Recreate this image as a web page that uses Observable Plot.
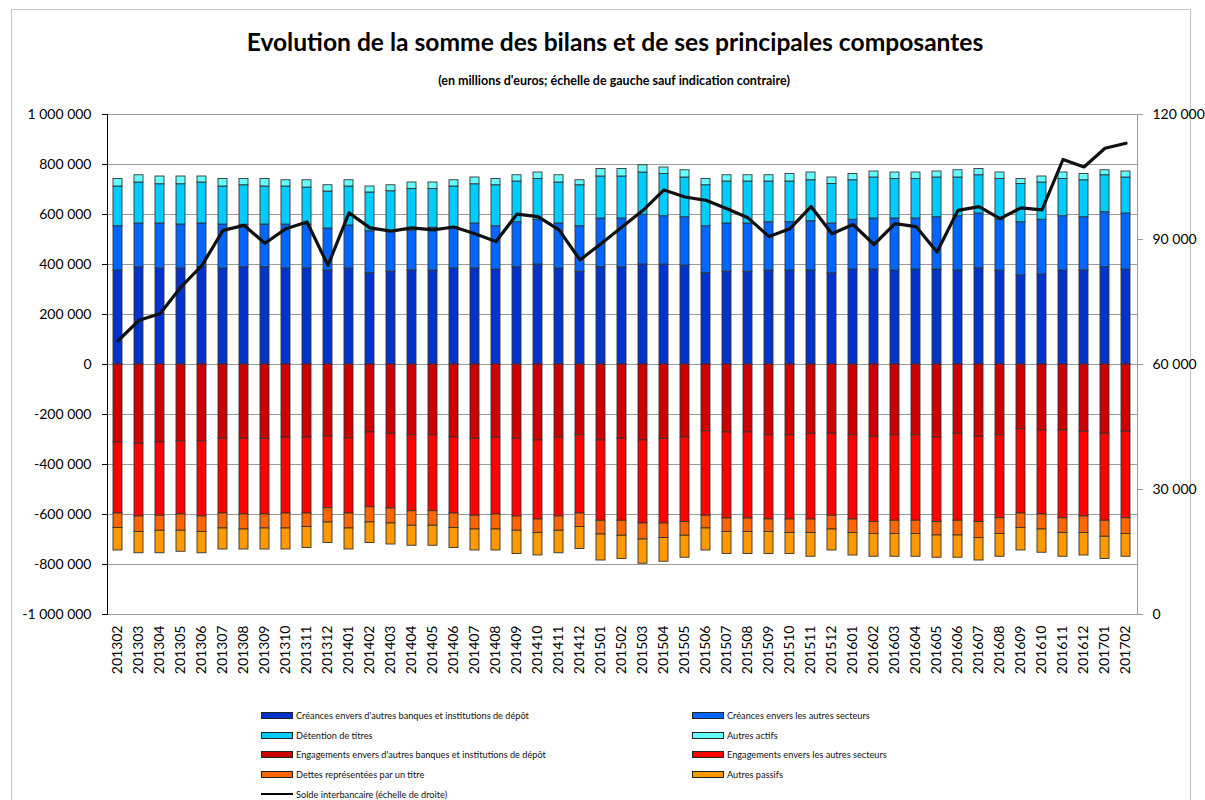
<!DOCTYPE html>
<html>
<head>
<meta charset="utf-8">
<script src="https://cdn.jsdelivr.net/npm/d3@7"></script>
<script src="https://cdn.jsdelivr.net/npm/@observablehq/plot@0.6"></script>
<style>
  body { margin: 0; background: #fff; font-family: Lato, "Open Sans", sans-serif; color: #000; }
  #frame { position: absolute; left: 11px; top: 9px; width: 1178px; height: 800px; border: 1px solid #c4c4c4; }
  #title { position: absolute; left: 0; width: 1230px; top: 28px; text-align: center; font-weight: bold; font-size: 24.6px; line-height: 28px; }
  #subtitle { position: absolute; left: 0; width: 1228px; top: 73px; text-align: center; font-weight: bold; font-size: 12.5px; }
  #chart { position: absolute; left: 0; top: 100px; }
  #chart svg { background: transparent !important; }
  .leg { position: absolute; font-size: 9.2px; white-space: nowrap; display: flex; align-items: center; color: #111; }
  .sw { width: 30px; height: 5px; border: 1px solid #222; margin-right: 3px; }
  .ln { width: 32px; height: 2.5px; background: #000; margin-right: 3px; }
</style>
</head>
<body>
<div id="frame"></div>
<div id="title">Evolution de la somme des bilans et de ses principales composantes</div>
<div id="subtitle">(en millions d'euros; échelle de gauche sauf indication contraire)</div>
<div id="chart"></div>
<div id="legend"></div>
<script>
const months = ["201302","201303","201304","201305","201306","201307","201308","201309","201310","201311","201312",
"201401","201402","201403","201404","201405","201406","201407","201408","201409","201410","201411","201412",
"201501","201502","201503","201504","201505","201506","201507","201508","201509","201510","201511","201512",
"201601","201602","201603","201604","201605","201606","201607","201608","201609","201610","201611","201612",
"201701","201702"];

// Actifs (positifs)
const creancesBanques = [376000,389000,384000,384000,389000,384000,389000,389000,384000,384000,376000,384000,365000,371000,376000,376000,
384000,384000,380000,389000,400000,384000,371000,389000,389000,400000,400000,396000,365000,371000,371000,376000,
376000,376000,365000,380000,380000,376000,380000,380000,376000,385000,376000,356000,360000,376000,376000,389000,380000];
const creancesSecteurs = [177000,175000,180000,176000,175000,176000,170000,171000,176000,175000,168000,172000,168000,160000,159000,171000,
165000,180000,173000,180000,179000,180000,182000,195000,195000,199000,193000,193000,188000,193000,193000,193000,
193000,197000,199000,199000,204000,208000,204000,209000,217000,219000,203000,213000,219000,217000,213000,220000,224000];
const detentionTitres = [159000,164000,157000,161000,164000,152000,158000,152000,152000,149000,148000,156000,155000,162000,167000,155000,
163000,157000,164000,163000,163000,164000,164000,168000,168000,169000,169000,159000,164000,168000,168000,163000,
163000,164000,158000,158000,164000,158000,158000,159000,155000,153000,163000,153000,149000,149000,148000,148000,144000];
const autresActifs = [30000,29000,31000,31000,24000,30000,25000,30000,25000,29000,25000,25000,24000,24000,26000,26000,
25000,27000,25000,25000,26000,29000,20000,30000,30000,29000,26000,29000,25000,25000,25000,25000,
30000,31000,26000,25000,24000,26000,26000,24000,29000,25000,26000,20000,24000,26000,25000,20000,24000];

// Passifs (portés en négatif)
const engagementsBanques = [312000,317000,312000,307000,307000,297000,297000,297000,292000,292000,288000,295000,272000,277000,283000,283000,
292000,297000,292000,297000,304000,292000,283000,304000,297000,304000,297000,292000,267000,272000,272000,283000,
283000,277000,277000,283000,289000,283000,283000,292000,277000,289000,283000,259000,264000,264000,269000,277000,269000];
const engagementsSecteurs = [284000,291000,293000,293000,301000,299000,303000,303000,304000,304000,287000,301000,299000,299000,304000,304000,
304000,308000,308000,311000,316000,316000,313000,321000,328000,332000,339000,338000,338000,344000,344000,337000,
337000,343000,328000,337000,341000,342000,342000,338000,348000,341000,332000,337000,336000,351000,339000,348000,346000];
const dettesTitre = [58000,62000,60000,65000,62000,60000,60000,56000,60000,54000,57000,60000,61000,60000,58000,58000,
58000,55000,60000,57000,54000,57000,54000,55000,60000,64000,58000,55000,51000,54000,54000,50000,
54000,54000,55000,54000,48000,53000,53000,54000,59000,64000,63000,58000,60000,59000,66000,64000,63000];
const autresPassifs = [90000,85000,90000,84000,85000,84000,80000,84000,84000,84000,82000,84000,82000,84000,80000,80000,
80000,84000,84000,93000,90000,90000,88000,104000,93000,97000,95000,88000,88000,88000,88000,88000,
84000,95000,84000,90000,91000,91000,91000,89000,89000,90000,91000,90000,93000,95000,90000,89000,91000];

// Solde interbancaire (échelle de droite)
const soldeInterbancaire = [65700,70600,72200,78600,83800,92200,93400,89100,92600,94200,83800,96400,92800,92000,92800,92300,
93000,91400,89500,96100,95500,92300,85100,89000,93000,97000,101900,100200,99400,97400,95200,90700,
92600,97900,91400,93600,88800,93800,93100,87000,97000,97900,95000,97600,97100,109200,107400,111900,113100];

const leftTicks = [-1000000,-800000,-600000,-400000,-200000,0,200000,400000,600000,800000,1000000];
const rightTickValues = [0,30000,60000,90000,120000];

const seriesNames = [
  "Créances envers d'autres banques et institutions de dépôt",
  "Créances envers les autres secteurs",
  "Détention de titres",
  "Autres actifs",
  "Engagements envers d'autres banques et institutions de dépôt",
  "Engagements envers les autres secteurs",
  "Dettes représentées par un titre",
  "Autres passifs"
];
const seriesColors = ["#0033CC","#0066FF","#00CCFF","#66FFFF","#CC0000","#FF0000","#FF6600","#FF9900"];
const seriesValues = [creancesBanques, creancesSecteurs, detentionTitres, autresActifs,
  engagementsBanques, engagementsSecteurs, dettesTitre, autresPassifs];
const seriesSigns = [1,1,1,1,-1,-1,-1,-1];
const lineName = "Solde interbancaire (échelle de droite)";

const rows = [];
seriesNames.forEach((name, si) => {
  months.forEach((m, i) => rows.push({month: m, serie: name, value: seriesSigns[si] * seriesValues[si][i]}));
});
const lineRows = months.map((m, i) => ({month: m, solde: soldeInterbancaire[i]}));

// right scale (0..120 000) mapped onto left scale (-1 000 000..1 000 000)
const RMAX = 120000, LMIN = -1000000, LMAX = 1000000;
const toLeft = v => LMIN + (v / RMAX) * (LMAX - LMIN);
const fromLeft = y => (y - LMIN) / (LMAX - LMIN) * RMAX;

const loc = d3.formatLocale({decimal: ",", thousands: "\u00a0", grouping: [3], currency: ["", ""], minus: "-"});
const fmt = loc.format(",.0f");

const chart = Plot.plot({
  width: 1205,
  height: 590,
  marginTop: 14,
  marginBottom: 76,
  marginLeft: 107,
  marginRight: 68,
  style: {fontFamily: "Lato, 'Open Sans', sans-serif", fontSize: "14px", background: "transparent", color: "black"},
  x: {type: "band", domain: months, paddingInner: 0.57, paddingOuter: 0.285, axis: null, label: null},
  y: {domain: [LMIN, LMAX], axis: null, label: null},
  color: {domain: seriesNames, range: seriesColors},
  marks: [
    Plot.gridY(leftTicks, {stroke: "#9c9c9c", strokeOpacity: 1, strokeWidth: 1}),
    Plot.frame({stroke: "#9c9c9c"}),
    Plot.barY(rows, {x: "month", y: "value", z: "serie", fill: "serie", stroke: "#333", strokeWidth: 0.9}),
    Plot.lineY(lineRows, {x: "month", y: d => toLeft(d.solde), stroke: "#111", strokeWidth: 3.2, strokeLinejoin: "round"}),
    Plot.frame({anchor: "left", stroke: "black"}),
    Plot.axisY(leftTicks, {anchor: "left", label: null, tickSize: 5, tickPadding: 11, tickFormat: fmt, fontSize: 14, stroke: "black"}),
    Plot.axisY(rightTickValues.map(toLeft), {anchor: "right", label: null, tickSize: 5, tickPadding: 10, tickFormat: d => fmt(Math.round(fromLeft(d))), fontSize: 14, stroke: "#999", fill: "black"}),
    Plot.axisX(months, {anchor: "bottom", label: null, tickRotate: -90, tickSize: 0, tickPadding: 11, fontSize: 14})
  ]
});
document.getElementById("chart").appendChild(chart);

// Legend
const legend = document.getElementById("legend");
const legendItems = [
  {name: seriesNames[0], color: seriesColors[0], col: 0, row: 0},
  {name: seriesNames[1], color: seriesColors[1], col: 1, row: 0},
  {name: seriesNames[2], color: seriesColors[2], col: 0, row: 1},
  {name: seriesNames[3], color: seriesColors[3], col: 1, row: 1},
  {name: seriesNames[4], color: seriesColors[4], col: 0, row: 2},
  {name: seriesNames[5], color: seriesColors[5], col: 1, row: 2},
  {name: seriesNames[6], color: seriesColors[6], col: 0, row: 3},
  {name: seriesNames[7], color: seriesColors[7], col: 1, row: 3},
  {name: lineName, color: null, col: 0, row: 4}
];
const colX = [261, 692];
const rowY = [715, 735, 754, 774, 794];
legendItems.forEach(it => {
  const d = document.createElement("div");
  d.className = "leg";
  d.style.left = colX[it.col] + "px";
  d.style.top = (rowY[it.row] - 7) + "px";
  d.style.height = "14px";
  const s = document.createElement("span");
  if (it.color) { s.className = "sw"; s.style.background = it.color; }
  else { s.className = "ln"; }
  d.appendChild(s);
  const t = document.createElement("span");
  t.textContent = it.name;
  d.appendChild(t);
  legend.appendChild(d);
});
</script>
</body>
</html>
